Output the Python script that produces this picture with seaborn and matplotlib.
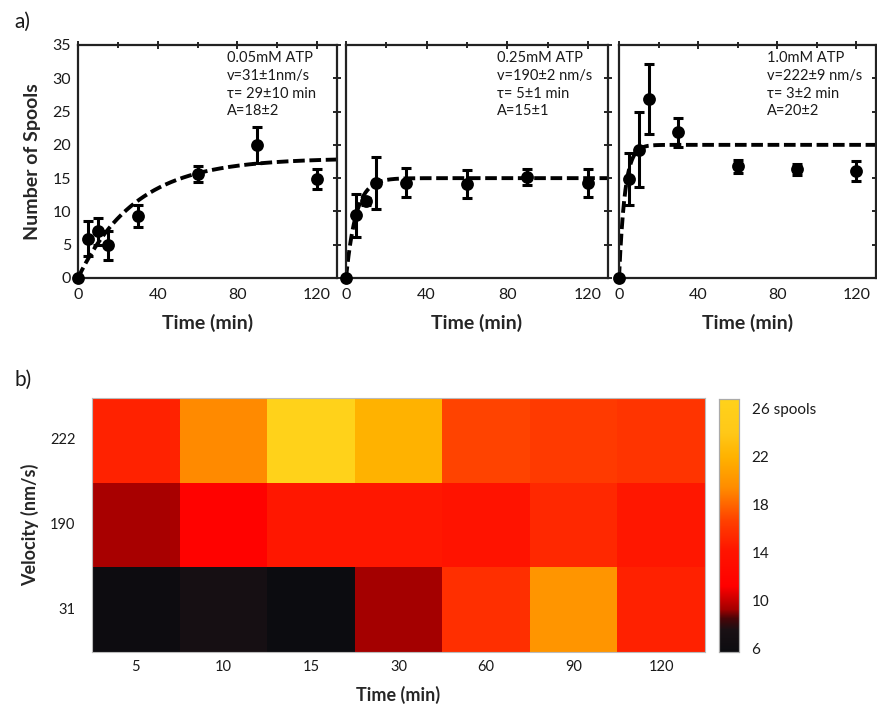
import numpy as np
import pandas as pd
import matplotlib
matplotlib.use("Agg")
import matplotlib.pyplot as plt
import seaborn as sns
from matplotlib.colors import LinearSegmentedColormap
from matplotlib.ticker import MultipleLocator, FixedLocator

sns.set_theme(style="white")
plt.rcParams['font.family'] = ['Lato', 'DejaVu Sans']

# ---- measured spool counts (mean and error) ----
times = [0, 5, 10, 15, 30, 60, 90, 120]
spools_005 = [0, 5.9, 7.0, 4.9, 9.3, 15.6, 20.0, 14.8]
err_005 = [0, 2.6, 2.0, 2.2, 1.6, 1.2, 2.7, 1.5]
spools_025 = [0, 9.4, 11.5, 14.3, 14.3, 14.1, 15.2, 14.3]
err_025 = [0, 3.2, 0.5, 3.9, 2.2, 2.1, 1.2, 2.1]
spools_10 = [0, 14.9, 19.3, 26.9, 21.9, 16.8, 16.3, 16.0]
err_10 = [0, 3.9, 5.6, 5.3, 2.2, 1.0, 0.8, 1.5]

# ---- exponential fit parameters per ATP concentration ----
conditions = ["0.05mM ATP", "0.25mM ATP", "1.0mM ATP"]
velocity_text = ["v=31±1nm/s", "v=190±2 nm/s", "v=222±9 nm/s"]
tau_text = ["τ= 29±10 min", "τ= 5±1 min", "τ= 3±2 min"]
amp_text = ["A=18±2", "A=15±1", "A=20±2"]
fit_tau = [29, 5, 3]
fit_amp = [18, 15, 20]
velocities = [31, 190, 222]

W, H = 877, 710
fig = plt.figure(figsize=(W / 100, H / 100), dpi=100)


def box(l, t, r, b):
    return [l / W, 1 - b / H, (r - l) / W, (b - t) / H]


panel_boxes = [box(78, 45, 337, 278), box(346, 45, 608, 278), box(619, 45, 876, 278)]
series = [(spools_005, err_005), (spools_025, err_025), (spools_10, err_10)]

for i, (pb, (vals, errs)) in enumerate(zip(panel_boxes, series)):
    ax = fig.add_axes(pb)
    df = pd.DataFrame({"t": times, "n": vals, "e": errs})
    tgrid = np.linspace(0, 130, 400)
    fit = pd.DataFrame({"t": tgrid, "n": fit_amp[i] * (1 - np.exp(-tgrid / fit_tau[i]))})
    sns.lineplot(data=fit, x="t", y="n", ax=ax, color="black", lw=2.8,
                 linestyle=(0, (3.0, 1.2)), zorder=2)
    ax.errorbar(df["t"], df["n"], yerr=df["e"], fmt="none", ecolor="black",
                elinewidth=2.2, capsize=3.5, capthick=2.2, zorder=3, clip_on=False)
    sns.scatterplot(data=df, x="t", y="n", ax=ax, color="black", s=85,
                    linewidth=0, zorder=4, clip_on=False)
    ax.set_xlim(0, 130)
    ax.set_ylim(0, 35)
    ax.xaxis.set_major_locator(MultipleLocator(40))
    ax.xaxis.set_minor_locator(MultipleLocator(20))
    ax.yaxis.set_major_locator(MultipleLocator(5))
    ax.tick_params(which="both", direction="inout", top=True, right=True,
                   color="black", width=1.2, labelsize=11.5, labelcolor="#1a1a1a")
    ax.tick_params(which="major", length=6)
    ax.tick_params(axis="x", which="major", pad=4)
    ax.tick_params(axis="y", which="major", pad=2)
    ax.tick_params(which="minor", length=5)
    for s in ax.spines.values():
        s.set_color("#222222")
        s.set_linewidth(1.6)
    ax.set_xlabel("Time (min)", fontsize=14, fontweight="bold", labelpad=9)
    if i == 0:
        ax.set_ylabel("Number of Spools", fontsize=14, fontweight="bold", labelpad=8)
    else:
        ax.set_ylabel("")
        ax.tick_params(labelleft=False)
    ax.text(0.575, 0.975,
            "\n".join([conditions[i], velocity_text[i], tau_text[i], amp_text[i]]),
            transform=ax.transAxes, ha="left", va="top", fontsize=10.5,
            linespacing=1.35, color="#1a1a1a")

# ---- heatmap of spool counts by velocity and time ----
cmap = LinearSegmentedColormap.from_list("spools", [
    (0.00, "#0c0c10"),
    (0.085, "#1a1014"),
    (0.13, "#4a0508"),
    (0.165, "#a00000"),
    (0.26, "#ff0000"),
    (0.40, "#ff1400"),
    (0.44, "#ff2400"),
    (0.52, "#ff4000"),
    (0.65, "#ff8c00"),
    (0.77, "#ffb200"),
    (0.87, "#ffc818"),
    (1.00, "#ffd21a"),
])
vmin, vmax = 5.7, 26.8

heat = pd.DataFrame([spools_10[1:], spools_025[1:], spools_005[1:]],
                    index=velocities[::-1], columns=times[1:])

hax = fig.add_axes(box(92, 398, 705, 652))
cax = fig.add_axes(box(719, 399, 739, 652))
sns.heatmap(heat, ax=hax, cbar_ax=cax, cmap=cmap, vmin=vmin, vmax=vmax,
            linewidths=0)
hax.tick_params(axis="both", which="both", direction="in", length=4, width=0.8,
                color="#777777", labelsize=10.5, labelcolor="#1a1a1a")
hax.tick_params(axis="x", top=True, bottom=True, pad=6)
hax.tick_params(axis="y", left=True, right=True, pad=12, rotation=0)
for s in hax.spines.values():
    s.set_visible(True)
    s.set_color("#bbbbbb")
    s.set_linewidth(0.8)
hax.set_xlabel("Time (min)", fontsize=13, fontweight="bold", labelpad=8)
hax.set_ylabel("Velocity (nm/s)", fontsize=13, fontweight="bold", labelpad=8)

cbar_ticks = [6, 10, 14, 18, 22, 26]
cax.yaxis.set_major_locator(FixedLocator(cbar_ticks))
cax.yaxis.set_minor_locator(MultipleLocator(2))
cax.set_yticklabels([str(t) if t != 26 else "26 spools" for t in cbar_ticks])
cax.tick_params(which="both", direction="in", length=3, width=0.7,
                color="#777777", labelsize=11, labelcolor="#1a1a1a", pad=9)
for s in cax.spines.values():
    s.set_visible(True)
    s.set_color("#aaaaaa")
    s.set_linewidth(0.8)

fig.text(14 / W, 1 - 22 / H, "a)", fontsize=15, va="center", ha="left", color="#1a1a1a")
fig.text(14 / W, 1 - 380 / H, "b)", fontsize=15, va="center", ha="left", color="#1a1a1a")

fig.savefig("out.png", dpi=100)
